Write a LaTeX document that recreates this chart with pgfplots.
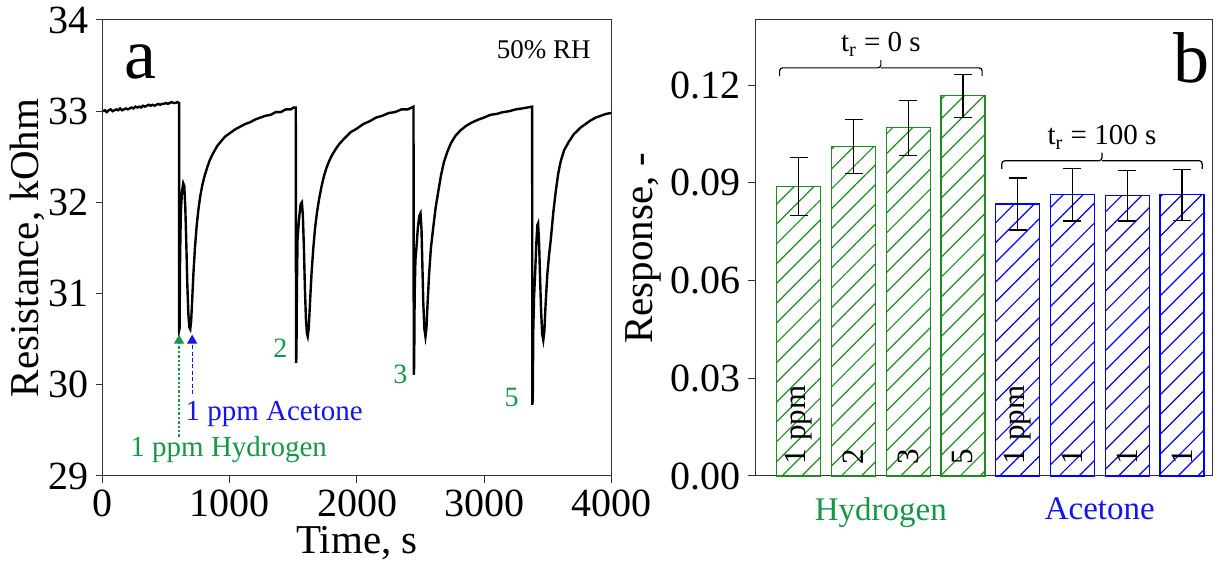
\documentclass[border=0pt]{standalone}
\usepackage{fontspec}
\setmainfont{Liberation Serif}
\usepackage{pgfplots}
\pgfplotsset{compat=1.18}
\usetikzlibrary{patterns.meta,arrows.meta}

\definecolor{tgreen}{RGB}{22,150,72}
\definecolor{bgreen}{RGB}{30,140,30}
\definecolor{tblue}{RGB}{20,20,240}
\definecolor{bblue}{RGB}{0,0,255}

\newcommand{\fs}[1]{\fontsize{#1}{#1}\selectfont}

\pgfplotsset{
  common/.style={
    scale only axis,
    axis line style={black!80, line width=0.5pt},
    tick style={black!80, line width=0.5pt},
    tick align=outside,
    major tick length=3.5pt,
    xtick pos=bottom, ytick pos=left,
    /pgf/number format/assume math mode=true,
    tick label style={font=\fs{20}},
    label style={font=\fs{20.5}},
  },
}
\tikzset{barlab/.style={rotate=90, anchor=west, font=\fs{15.5}, inner sep=0pt}}

\begin{document}
\begin{tikzpicture}
\useasboundingbox (-51.5pt,-44.5pt) rectangle (561.5pt,238pt);

% ---------------- panel a ----------------
\begin{axis}[
  common,
  at={(0,0)}, anchor=south west,
  width=254pt, height=228pt,
  xmin=0, xmax=4000, ymin=29, ymax=34,
  xtick={0,1000,2000,3000,4000},
  ytick={29,30,31,32,33,34},
  xlabel={Time, s},
  ylabel={Resistance, kOhm},
  scaled x ticks=false,
  xticklabel style={/pgf/number format/.cd, 1000 sep={}},
  xlabel style={yshift=2pt},
  ylabel style={yshift=-5pt},
  clip=false,
]
\addplot[black, line width=1.2pt] coordinates {
  (0,33.00) (15,33.01) (30,32.99) (45,33.01) (60,33.02) (75,33.00) (90,33.01) (105,33.02) (120,33.01)
  (135,33.03) (150,33.01) (165,33.02) (180,33.03) (195,33.02) (210,33.03) (225,33.04) (240,33.03)
  (255,33.05) (270,33.04) (285,33.05) (300,33.04) (315,33.06) (330,33.05) (345,33.06) (360,33.07)
  (375,33.06) (390,33.07) (405,33.06) (420,33.07) (435,33.08) (450,33.07) (465,33.08) (480,33.08)
  (495,33.09) (510,33.08) (525,33.09) (540,33.10) (555,33.09) (570,33.09) (585,33.10) (599,33.09)
  (600,30.60) (603,30.62) (607,31.40) (613,31.90) (622,32.12) (632,32.21) (640,32.18) (648,31.95)
  (656,31.55) (664,31.10) (672,30.78) (680,30.63) (687,30.61) (694,30.70) (702,30.92) (712,31.22)
  (724,31.50) (738,31.75) (752,31.93) (766,32.07) (782,32.19) (800,32.29) (820,32.38) (840,32.46)
  (860,32.52) (880,32.57) (900,32.62) (930,32.67) (960,32.72) (1000,32.76) (1040,32.80) (1080,32.83)
  (1120,32.86) (1160,32.88) (1200,32.91) (1240,32.93) (1280,32.95) (1320,32.96) (1360,32.99) (1400,32.99)
  (1440,33.02) (1480,33.02) (1500,33.04) (1518,33.04)
  (1520,30.24) (1523,30.30) (1527,31.10) (1532,31.60) (1538,31.72) (1546,31.85) (1556,31.98) (1566,32.00)
  (1574,31.85) (1582,31.50) (1590,31.05) (1598,30.72) (1606,30.56) (1612,30.53) (1620,30.62) (1630,30.90)
  (1642,31.22) (1656,31.50) (1670,31.72) (1686,31.90) (1702,32.04) (1720,32.17) (1740,32.29) (1760,32.38)
  (1780,32.45) (1800,32.51) (1830,32.58) (1860,32.64) (1900,32.70) (1950,32.77) (2000,32.81) (2050,32.86)
  (2100,32.89) (2150,32.93) (2200,32.95) (2250,32.98) (2300,32.99) (2350,33.02) (2400,33.02) (2430,33.04) (2445,33.05)
  (2447,30.11) (2450,30.20) (2454,31.00) (2460,31.37) (2468,31.50) (2478,31.70) (2490,31.85) (2500,31.88)
  (2508,31.70) (2515,31.30) (2522,30.90) (2530,30.62) (2539,30.53) (2547,30.62) (2556,30.90) (2568,31.22)
  (2582,31.50) (2600,31.72) (2620,31.95) (2640,32.12) (2662,32.30) (2684,32.44) (2710,32.55) (2740,32.65)
  (2775,32.73) (2815,32.79) (2860,32.84) (2910,32.88) (2960,32.91) (3000,32.93) (3050,32.96) (3100,32.97)
  (3150,32.99) (3200,33.00) (3250,33.02) (3300,33.03) (3340,33.04) (3379,33.05)
  (3381,29.78) (3384,29.85) (3388,30.60) (3394,30.96) (3402,31.20) (3412,31.55) (3420,31.75) (3426,31.77)
  (3434,31.55) (3442,31.15) (3450,30.80) (3458,30.56) (3467,30.49) (3475,30.58) (3485,30.88) (3498,31.20)
  (3512,31.42) (3525,31.58) (3545,31.88) (3565,32.12) (3585,32.32) (3604,32.45) (3630,32.57) (3670,32.67)
  (3709,32.75) (3760,32.82) (3800,32.86) (3841,32.90) (3880,32.93) (3920,32.95) (3960,32.97) (4000,32.98)
};
\node[font=\fs{36}] at (axis cs:292,33.54) {a};
\node[font=\fs{13.5}] at (axis cs:3470,33.67) {50\% RH};
\node[font=\fs{14}, text=tgreen] at (axis cs:1396,30.40) {2};
\node[font=\fs{14}, text=tgreen] at (axis cs:2342,30.11) {3};
\node[font=\fs{14}, text=tgreen] at (axis cs:3218,29.86) {5};
\draw[tgreen, line width=0.6pt, dash pattern=on 1.2pt off 1pt, -{Triangle[width=5pt,length=4.5pt]}]
  (axis cs:599,29.43) -- (axis cs:599,30.55);
\draw[tblue, line width=0.6pt, dash pattern=on 2pt off 1.2pt, -{Triangle[width=5pt,length=4.5pt]}]
  (axis cs:702,29.90) -- (axis cs:702,30.55);
\node[font=\fs{14.5}, text=tblue, anchor=west, inner sep=0pt] at (axis cs:647,29.68) {1 ppm Acetone};
\node[font=\fs{14.5}, text=tgreen, anchor=west, inner sep=0pt] at (axis cs:213,29.29) {1 ppm Hydrogen};
\end{axis}

% ---------------- panel b ----------------
\begin{axis}[
  common,
  at={(326pt,0)}, anchor=south west,
  width=228.5pt, height=228pt,
  xmin=-0.8, xmax=7.55, ymin=0, ymax=0.14,
  xtick={1.5,5.5},
  xticklabels={\textcolor{tgreen}{Hydrogen}, \textcolor{tblue}{Acetone}},
  x tick label style={font=\fs{16.5}, yshift=-4pt},
  x tick style={draw=none},
  ytick={0,0.03,0.06,0.09,0.12},
  yticklabel style={/pgf/number format/.cd, fixed, fixed zerofill, precision=2},
  scaled y ticks=false,
  ylabel={Response, -},
  ylabel style={yshift=-2pt},
  clip=false,
]
\addplot[ybar, bar width=22pt, draw=bgreen, line width=0.6pt,
  pattern={Lines[angle=45,distance=7pt,line width=0.6pt]}, pattern color=bgreen,
  error bars/.cd, y dir=both, y explicit,
  error bar style={black, line width=0.6pt},
  error mark options={rotate=90, black, mark size=4.5pt, line width=0.6pt}]
  coordinates {
  (0,0.0888) +- (0,0.0089)
  (1,0.1012) +- (0,0.0083)
  (2,0.1069) +- (0,0.0084)
  (3,0.1167) +- (0,0.0066)
};
\addplot[ybar, bar width=22pt, draw=bblue, line width=0.6pt,
  pattern={Lines[angle=45,distance=7pt,line width=0.6pt]}, pattern color=bblue,
  error bars/.cd, y dir=both, y explicit,
  error bar style={black, line width=0.6pt},
  error mark options={rotate=90, black, mark size=4.5pt, line width=0.6pt}]
  coordinates {
  (4,0.0835) +- (0,0.0080)
  (5,0.0863) +- (0,0.0080)
  (6,0.0861) +- (0,0.0078)
  (7,0.0863) +- (0,0.0078)
};
\node[barlab] at (axis cs:0,0.0035) {1 ppm};
\node[barlab] at (axis cs:1,0.0035) {2};
\node[barlab] at (axis cs:2,0.0035) {3};
\node[barlab] at (axis cs:3,0.0035) {5};
\node[barlab] at (axis cs:4,0.0035) {1 ppm};
\node[barlab] at (axis cs:5,0.0035) {1};
\node[barlab] at (axis cs:6,0.0035) {1};
\node[barlab] at (axis cs:7,0.0035) {1};
\draw[black, line width=0.6pt, rounded corners=1.5pt]
  (axis cs:-0.35,0.1228) -- (axis cs:-0.35,0.1253) -- (axis cs:1.5,0.1253) -- (axis cs:1.5,0.1277);
\draw[black, line width=0.6pt, rounded corners=1.5pt]
  (axis cs:1.5,0.1253) -- (axis cs:3.35,0.1253) -- (axis cs:3.35,0.1228);
\node[font=\fs{14.5}] at (axis cs:1.5,0.1325) {t\textsubscript{r} = 0 s};
\draw[black, line width=0.6pt, rounded corners=1.5pt]
  (axis cs:3.71,0.0943) -- (axis cs:3.71,0.0968) -- (axis cs:5.54,0.0968) -- (axis cs:5.54,0.0993);
\draw[black, line width=0.6pt, rounded corners=1.5pt]
  (axis cs:5.54,0.0968) -- (axis cs:7.37,0.0968) -- (axis cs:7.37,0.0943);
\node[font=\fs{14.5}] at (axis cs:5.54,0.1040) {t\textsubscript{r} = 100 s};
\node[font=\fs{36}] at (axis cs:7.18,0.1284) {b};
\end{axis}
\end{tikzpicture}
\end{document}
